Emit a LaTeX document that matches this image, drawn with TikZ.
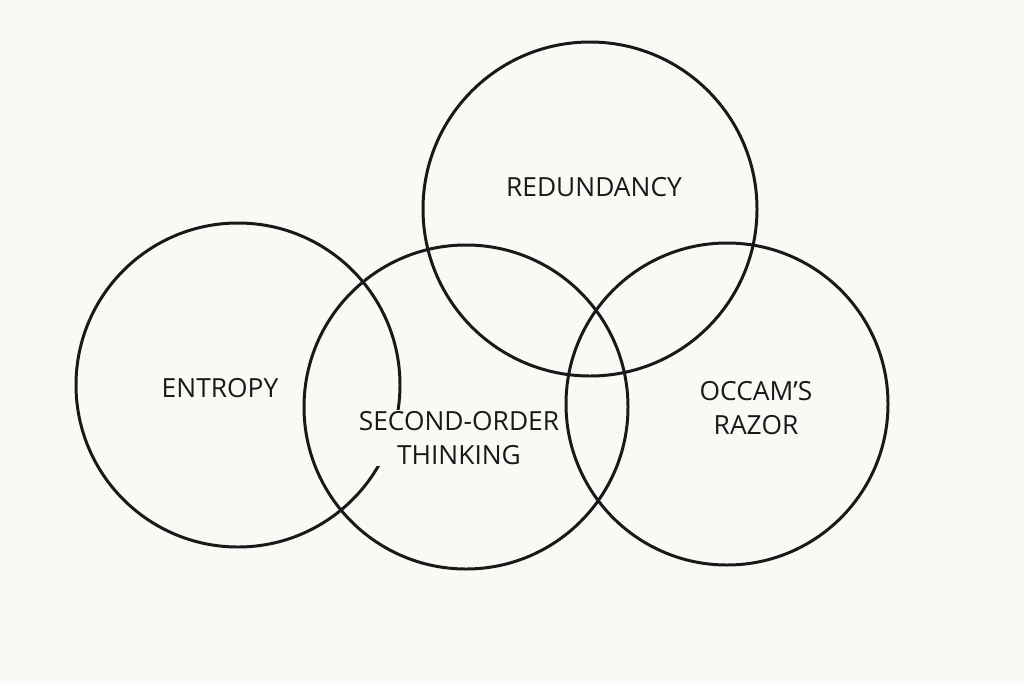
\documentclass[tikz,border=0pt]{standalone}
\usepackage{fontspec}
\setmainfont{Open Sans}
\definecolor{paper}{HTML}{FAF9F6}
\tikzset{
  ring/.style={draw=black!90,line width=1.7pt},
  tag/.style={font=\fontsize{15}{19}\selectfont,align=center,text=black!90},
  cuttag/.style={tag,fill=paper,inner sep=1pt}
}
\begin{document}
\begin{tikzpicture}[x=0.02cm,y=-0.02cm]
\fill[paper] (0,0) rectangle (1024,683);
\useasboundingbox (0,0) rectangle (1024,683);
\draw[ring] (238,385) circle[radius=162];
\draw[ring] (466,407) circle[radius=162];
\draw[ring] (590,209) circle[radius=167];
\draw[ring] (727,404) circle[radius=161];
\node[tag] (red) at (594,187) {REDUNDANCY};
\node[tag] (ent) at (220,388) {ENTROPY};
\node[tag] (occ) at (756,408) {OCCAM'S\\RAZOR};
\node[cuttag] (sec) at (459,438) {SECOND-ORDER\\THINKING};
\end{tikzpicture}
\end{document}
